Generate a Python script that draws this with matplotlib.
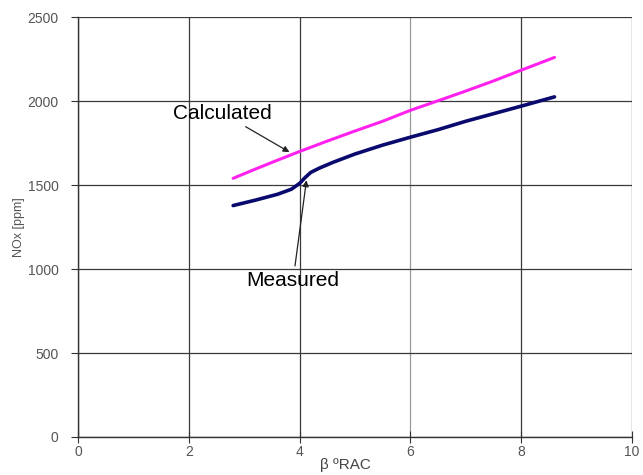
import matplotlib.pyplot as plt

plt.rcParams['font.family'] = ['Liberation Sans', 'DejaVu Sans']

# crank angle [deg] and NOx [ppm]
calc_x = [2.8, 3.2, 3.6, 4.0, 4.5, 5.0, 5.5, 6.0, 6.5, 7.0, 7.5, 8.0, 8.6]
calc_y = [1540, 1595, 1648, 1700, 1762, 1822, 1880, 1945, 2002, 2060, 2120, 2184, 2260]

meas_x = [2.8, 3.2, 3.6, 3.85, 4.0, 4.1, 4.2, 4.35, 4.6, 5.0, 5.5, 6.0, 6.5, 7.0, 7.5, 8.0, 8.6]
meas_y = [1378, 1410, 1445, 1475, 1510, 1545, 1575, 1600, 1635, 1685, 1738, 1785, 1830, 1880, 1925, 1970, 2025]

x_ticks = [0, 2, 4, 6, 8, 10]
y_ticks = [0, 500, 1000, 1500, 2000, 2500]

fig = plt.figure(figsize=(6.43, 4.75), dpi=100)
ax = fig.add_axes([0.1213, 0.08, 0.8617, 0.884])

ax.plot(calc_x, calc_y, color='#ff22ee', lw=2.2, solid_capstyle='round')
ax.plot(meas_x, meas_y, color='#0a0a6e', lw=2.6, solid_capstyle='round')

ax.set_xlim(0, 10)
ax.set_ylim(0, 2500)
ax.set_xticks(x_ticks)
ax.set_yticks(y_ticks)
ax.grid(True, color='#3a3a3a', lw=0.9)
ax.set_axisbelow(True)
# the x=6 gridline is printed lighter
ax.get_xgridlines()[3].set_color('#9a9a9a')

for side in ['top', 'right']:
    ax.spines[side].set_visible(False)
for side in ['left', 'bottom']:
    ax.spines[side].set_color('#333333')
    ax.spines[side].set_linewidth(1.0)

ax.tick_params(axis='both', colors='#333333', labelcolor='#555555', labelsize=10)
ax.tick_params(axis='x', direction='inout', length=8, pad=2)
ax.tick_params(axis='y', direction='out', length=5, pad=9)

ax.set_ylabel('NOx [ppm]', fontsize=9, color='#555555')
ax.yaxis.set_label_coords(-0.096, 0.5)
ax.set_xlabel('\u03b2 \u00baRAC', fontsize=11, color='#444444')
ax.xaxis.set_label_coords(0.482, -0.05)

arrow = dict(arrowstyle='-|>', color='#222222', lw=0.9, mutation_scale=9)
ax.annotate('Calculated', xy=(3.86, 1688), xytext=(2.6, 1929),
            fontsize=15, ha='center', va='center', arrowprops=arrow)
ax.annotate('Measured', xy=(4.13, 1545), xytext=(3.88, 929),
            fontsize=15, ha='center', va='center', arrowprops=arrow)

fig.savefig('out.png', dpi=100)
